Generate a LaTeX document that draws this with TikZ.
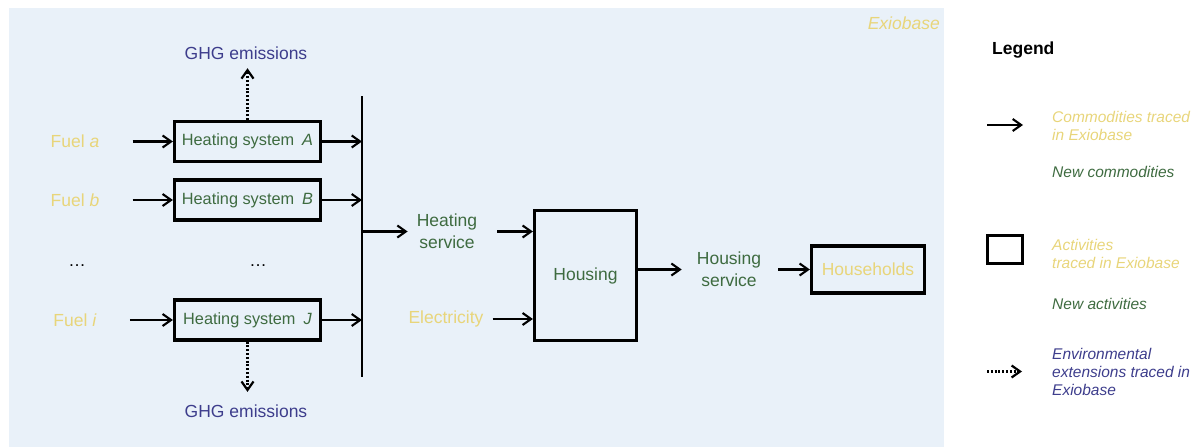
\documentclass[tikz,border=0pt]{standalone}
\usepackage{fontspec}
\setmainfont{Liberation Sans}
\usetikzlibrary{arrows.meta}
\definecolor{bgblue}{HTML}{E9F1F9}
\definecolor{ylw}{HTML}{E8D57A}
\definecolor{grn}{HTML}{3E6B40}
\definecolor{blu}{HTML}{3D3D8C}
\begin{document}
\begin{tikzpicture}[x=1pt,y=-1pt,
  tipend/.style={-{Straight Barb[length=8.5pt,width=12pt]}},
  arr/.style={line width=2.1pt, tipend},
  dotarr/.style={line width=2.2pt, dash pattern=on 2pt off 1.8pt, tipend},
  actbox/.style={draw=black, line width=3.4pt, inner sep=0pt},
  heatbox/.style={actbox, minimum width=145.8pt, minimum height=39.8pt, text=grn, font=\fontsize{16.3}{20}\selectfont},
  lbl/.style={inner sep=0pt, font=\fontsize{17.5}{22}\selectfont, align=center},
  leg/.style={inner sep=0pt, anchor=west, align=left, font=\fontsize{15.5}{18}\selectfont\itshape},
]
\useasboundingbox (0,0) rectangle (1197,447);
\fill[bgblue] (9.3,7.5) rectangle (944,447);
\node[lbl, anchor=east, text=ylw, font=\fontsize{17.5}{22}\selectfont\itshape] (exio) at (940,23) {Exiobase};

% heating systems
\node[heatbox] (A) at (247.5,141.5) {Heating system\hspace{8pt}\textit{A}};
\node[heatbox] (B) at (247.5,200) {Heating system\hspace{8pt}\textit{B}};
\node[heatbox] (J) at (247.5,320) {Heating system\hspace{8pt}\textit{J}};

% fuels
\node[lbl, text=ylw] (fa) at (75,141.5) {Fuel \textit{a}};
\node[lbl, text=ylw] (fb) at (75,200) {Fuel \textit{b}};
\node[lbl] (d1) at (77,266) {…};
\node[lbl] (d2) at (258,266) {…};
\node[lbl, text=ylw] (fi) at (75,320) {Fuel \textit{i}};

\draw[arr, shorten <=33pt] (fa) -- (A);
\draw[arr, shorten <=33pt] (fb) -- (B);
\draw[arr, shorten <=33pt] (fi) -- (J);

% bus
\coordinate (bustop) at (362,96);
\coordinate (busbot) at (362,377);
\draw[line width=1.6pt] (bustop) -- (busbot);
\draw[arr] (A.east) -- (A.east -| bustop);
\draw[arr] (B.east) -- (B.east -| bustop);
\draw[arr] (J.east) -- (J.east -| bustop);

% GHG
\node[lbl, text=blu] (g1) at (246,53) {GHG emissions};
\node[lbl, text=blu] (g2) at (246,411.5) {GHG emissions};
\draw[dotarr, shorten >=8.6pt] (A.north) -- (A.north |- g1.south);
\draw[dotarr, shorten >=13pt] (J.south) -- (J.south |- g2.north);

% heating service, electricity, housing
\node[lbl, text=grn] (hs) at (447,231.5) {Heating\\service};
\node[lbl, text=ylw] (el) at (446,319) {Electricity};
\node[actbox, minimum width=101.8pt, minimum height=129.8pt, text=grn, font=\fontsize{17.5}{22}\selectfont] (H) at (585.5,275.5) {Housing};
\draw[arr, shorten >=9pt] (hs.west -| bustop) -- (hs.west);
\draw[arr, shorten <=20pt] (hs.east) -- (hs.east -| H.west);
\draw[arr, shorten <=9pt] (el.east) -- (el.east -| H.west);

% housing service, households
\node[lbl, text=grn] (hsv) at (729,269.5) {Housing\\service};
\node[actbox, minimum width=112.8pt, minimum height=46.8pt, text=ylw, font=\fontsize{17.5}{22}\selectfont] (HH) at (868,269.5) {Households\hspace{6pt}};
\draw[arr, shorten >=15pt] (H.east |- hsv.west) -- (hsv.west);
\draw[arr, shorten <=17pt] (hsv.east) -- (HH.west);

% legend
\node[lbl, anchor=west, font=\fontsize{17.5}{20}\selectfont\bfseries] (legt) at (992,50) {Legend};
\coordinate (la1) at (987,125);
\coordinate (la2) at (1023,125);
\draw[arr] (la1) -- (la2);
\node[leg, text=ylw] (l1) at (1052,126) {Commodities traced\\in Exiobase};
\node[leg, text=grn] (l2) at (1052,172) {New commodities};
\node[actbox, minimum width=34.8pt, minimum height=27.8pt] (lbox) at (1005,249.5) {};
\node[leg, text=ylw] (l3) at (1052,253.5) {Activities\\traced in Exiobase};
\node[leg, text=grn] (l4) at (1052,304) {New activities};
\coordinate (ld1) at (987,371.5);
\coordinate (ld2) at (1022,371.5);
\draw[dotarr] (ld1) -- (ld2);
\node[leg, text=blu] (l5) at (1052,372) {Environmental\\extensions traced in\\Exiobase};
\end{tikzpicture}
\end{document}
